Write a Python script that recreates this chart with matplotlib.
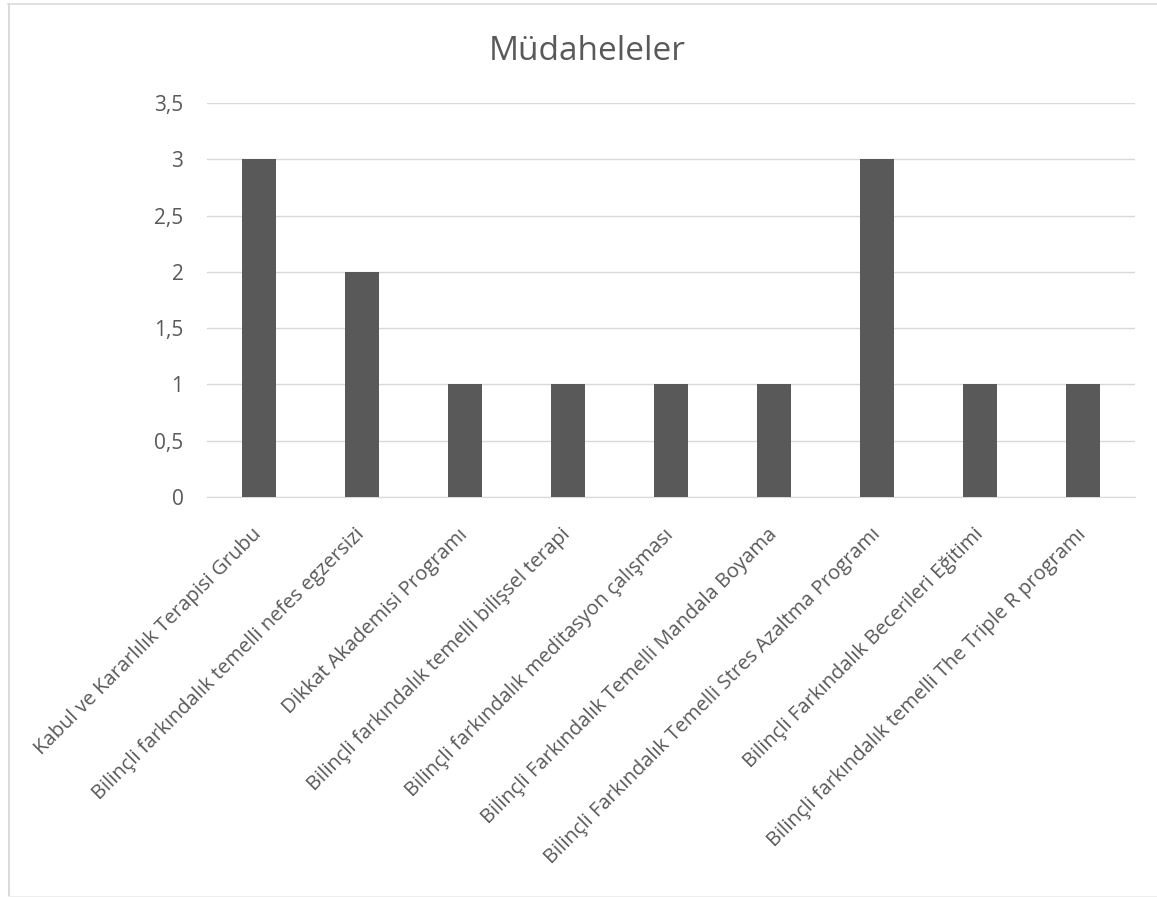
import matplotlib
matplotlib.use("Agg")
import matplotlib.pyplot as plt
from matplotlib.lines import Line2D

categories = [
    "Kabul ve Kararlılık Terapisi Grubu",
    "Bilinçli farkındalık temelli nefes egzersizi",
    "Dikkat Akademisi Programı",
    "Bilinçli farkındalık temelli bilişsel terapi",
    "Bilinçli farkındalık meditasyon çalışması",
    "Bilinçli Farkındalık Temelli Mandala Boyama",
    "Bilinçli Farkındalık Temelli Stres Azaltma Programı",
    "Bilinçli Farkındalık Becerileri Eğitimi",
    "Bilinçli farkındalık temelli The Triple R programı",
]
values = [3, 2, 1, 1, 1, 1, 3, 1, 1]
yticks = [0, 0.5, 1, 1.5, 2, 2.5, 3, 3.5]
ytick_labels = ["0", "0,5", "1", "1,5", "2", "2,5", "3", "3,5"]
title = "Müdaheleler"

plt.rcParams['font.family'] = ['Open Sans', 'DejaVu Sans']
W, H = 1157, 897
fig = plt.figure(figsize=(W / 100, H / 100), dpi=100)

# chart-area frame (left, top, faint bottom; right edge cut off)
fc = '#d9d9d9'
fig.lines.append(Line2D([8.5 / W, 8.5 / W], [0, 1 - 4 / H], transform=fig.transFigure,
                        color=fc, linewidth=1.4))
fig.lines.append(Line2D([8 / W, 1], [1 - 4.5 / H, 1 - 4.5 / H], transform=fig.transFigure,
                        color=fc, linewidth=1.1))
fig.lines.append(Line2D([8 / W, 1], [1 - 895.5 / H, 1 - 895.5 / H], transform=fig.transFigure,
                        color='#eeeeee', linewidth=0.8))

ax = fig.add_axes([207 / W, 1 - 497 / H, (1135 - 207) / W, (497 - 103) / H])
x = list(range(len(categories)))
ax.bar(x, values, width=0.33, color='#595959', zorder=3)
ax.set_xlim(-0.5, len(categories) - 0.5)
ax.set_ylim(0, 3.5)
ax.set_yticks(yticks)
ax.set_yticklabels(ytick_labels)
ax.yaxis.grid(True, color='#d9d9d9', linewidth=1, zorder=0)
for s in ['top', 'right', 'left']:
    ax.spines[s].set_visible(False)
ax.spines['bottom'].set_color('#d9d9d9')
ax.tick_params(axis='both', length=0, colors='#595959')
ax.tick_params(axis='y', pad=17, labelsize=15)
ax.set_xticks(x)
ax.set_xticklabels(categories, rotation=45, ha='right', va='center',
                   rotation_mode='anchor')
ax.tick_params(axis='x', pad=25, labelsize=14.5)

fig.text(587 / W, 1 - 52 / H, title, ha='center', va='center',
         fontsize=24, color='#595959')

fig.savefig("out.png", dpi=100)
